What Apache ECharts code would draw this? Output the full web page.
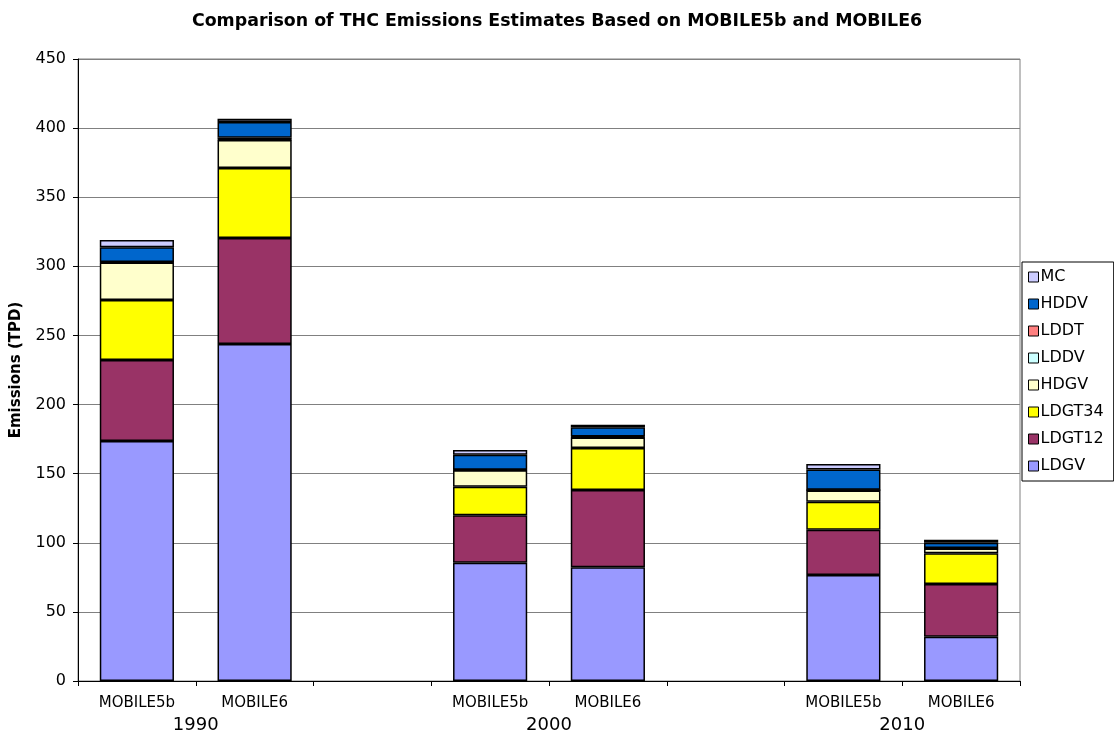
<!doctype html>
<html>
<head>
<meta charset="UTF-8">
<title>THC Emissions</title>
<script src="https://cdn.jsdelivr.net/npm/echarts@6/dist/echarts.min.js"></script>
<style>
  html, body { margin: 0; padding: 0; background: #fff; }
  #main { width: 1114px; height: 738px; }
</style>
</head>
<body>
<div id="main"></div>
<script type="text/javascript">
// categories (empty slots act as gaps between years)
var models = ['MOBILE5b', 'MOBILE6', '', 'MOBILE5b', 'MOBILE6', '', 'MOBILE5b', 'MOBILE6'];
// year labels sit on the slot boundaries (9 boundaries for 8 slots)
var years = ['', '1990', '', '', '2000', '', '', '2010', ''];

// series values, TPD (null = gap slot)
var LDGV   = [173.6, 243.8, null, 85.6, 82.3, null, 76.7, 32.0];
var LDGT12 = [58.6, 76.7, null, 34.3, 55.9, null, 32.8, 38.2];
var LDGT34 = [43.5, 50.7, null, 20.7, 30.4, null, 20.2, 22.2];
var HDGV   = [27.0, 20.2, null, 11.8, 7.6, null, 8.2, 3.4];
var LDDV   = [0.2, 0.4, null, 0.2, 0.2, null, 0.1, 0.1];
var LDDT   = [0.3, 1.2, null, 0.3, 0.5, null, 0.3, 0.3];
var HDDV   = [10.6, 11.4, null, 10.8, 6.7, null, 14.8, 3.9];
var MC     = [5.3, 2.4, null, 3.4, 1.7, null, 3.9, 2.1];

var names = ['LDGV', 'LDGT12', 'LDGT34', 'HDGV', 'LDDV', 'LDDT', 'HDDV', 'MC'];
var values = [LDGV, LDGT12, LDGT34, HDGV, LDDV, LDDT, HDDV, MC];
var colors = ['#9999FF', '#993366', '#FFFF00', '#FFFFCC', '#CCFFFF', '#FF8080', '#0066CC', '#CCCCFF'];

var series = [];
for (var i = 0; i < names.length; i++) {
  series.push({
    name: names[i],
    type: 'bar',
    stack: 'total',
    barWidth: '63%',
    data: values[i],
    itemStyle: { color: colors[i], borderColor: '#000', borderWidth: 1.5 }
  });
}

var chart = echarts.init(document.getElementById('main'));
chart.setOption({
  animation: false,
  textStyle: { fontFamily: 'DejaVu Sans, Arial, sans-serif', color: '#000' },
  title: {
    text: 'Comparison of THC Emissions Estimates Based on MOBILE5b and MOBILE6',
    left: 'center',
    top: 8,
    textStyle: { fontSize: 17.4, fontWeight: 'bold', color: '#000', fontFamily: 'DejaVu Sans' }
  },
  legend: {
    orient: 'vertical',
    left: 1022,
    top: 262,
    data: names.slice().reverse(),
    backgroundColor: '#fff',
    borderColor: '#000',
    borderWidth: 1,
    borderRadius: 0,
    padding: [7, 10, 7, 6],
    itemWidth: 10,
    itemHeight: 10,
    itemGap: 11,
    icon: 'rect',
    itemStyle: { borderColor: '#000', borderWidth: 1 },
    textStyle: { fontSize: 16, color: '#000', padding: [0, 0, 0, -3], fontFamily: 'DejaVu Sans' }
  },
  grid: {
    left: 78, right: 94, top: 59, bottom: 57,
    outerBoundsMode: 'none',
    containLabel: false,
    show: true, borderColor: '#808080', borderWidth: 1
  },
  xAxis: [{
    type: 'category',
    data: models,
    axisLine: { lineStyle: { color: '#000', width: 1 } },
    axisTick: { show: true, length: 5, lineStyle: { color: '#000' } },
    axisLabel: { interval: 0, fontSize: 15, color: '#000', margin: 15, fontFamily: 'DejaVu Sans' }
  }, {
    type: 'category',
    position: 'bottom',
    boundaryGap: false,
    data: years,
    axisLine: { show: false },
    axisTick: { show: false },
    axisLabel: { interval: 0, fontSize: 18, color: '#000', margin: 35, fontFamily: 'DejaVu Sans' }
  }],
  yAxis: {
    type: 'value',
    min: 0, max: 450, interval: 50,
    name: 'Emissions (TPD)',
    nameLocation: 'middle',
    nameGap: 54,
    nameTextStyle: { fontSize: 15, fontWeight: 'bold', color: '#000', fontFamily: 'DejaVu Sans' },
    axisLine: { show: true, lineStyle: { color: '#000' } },
    axisTick: { show: true, length: 5, lineStyle: { color: '#000' } },
    axisLabel: { fontSize: 16, color: '#000', margin: 12, fontFamily: 'DejaVu Sans' },
    splitLine: { lineStyle: { color: '#808080', width: 1 } }
  },
  series: series
});
</script>
</body>
</html>
